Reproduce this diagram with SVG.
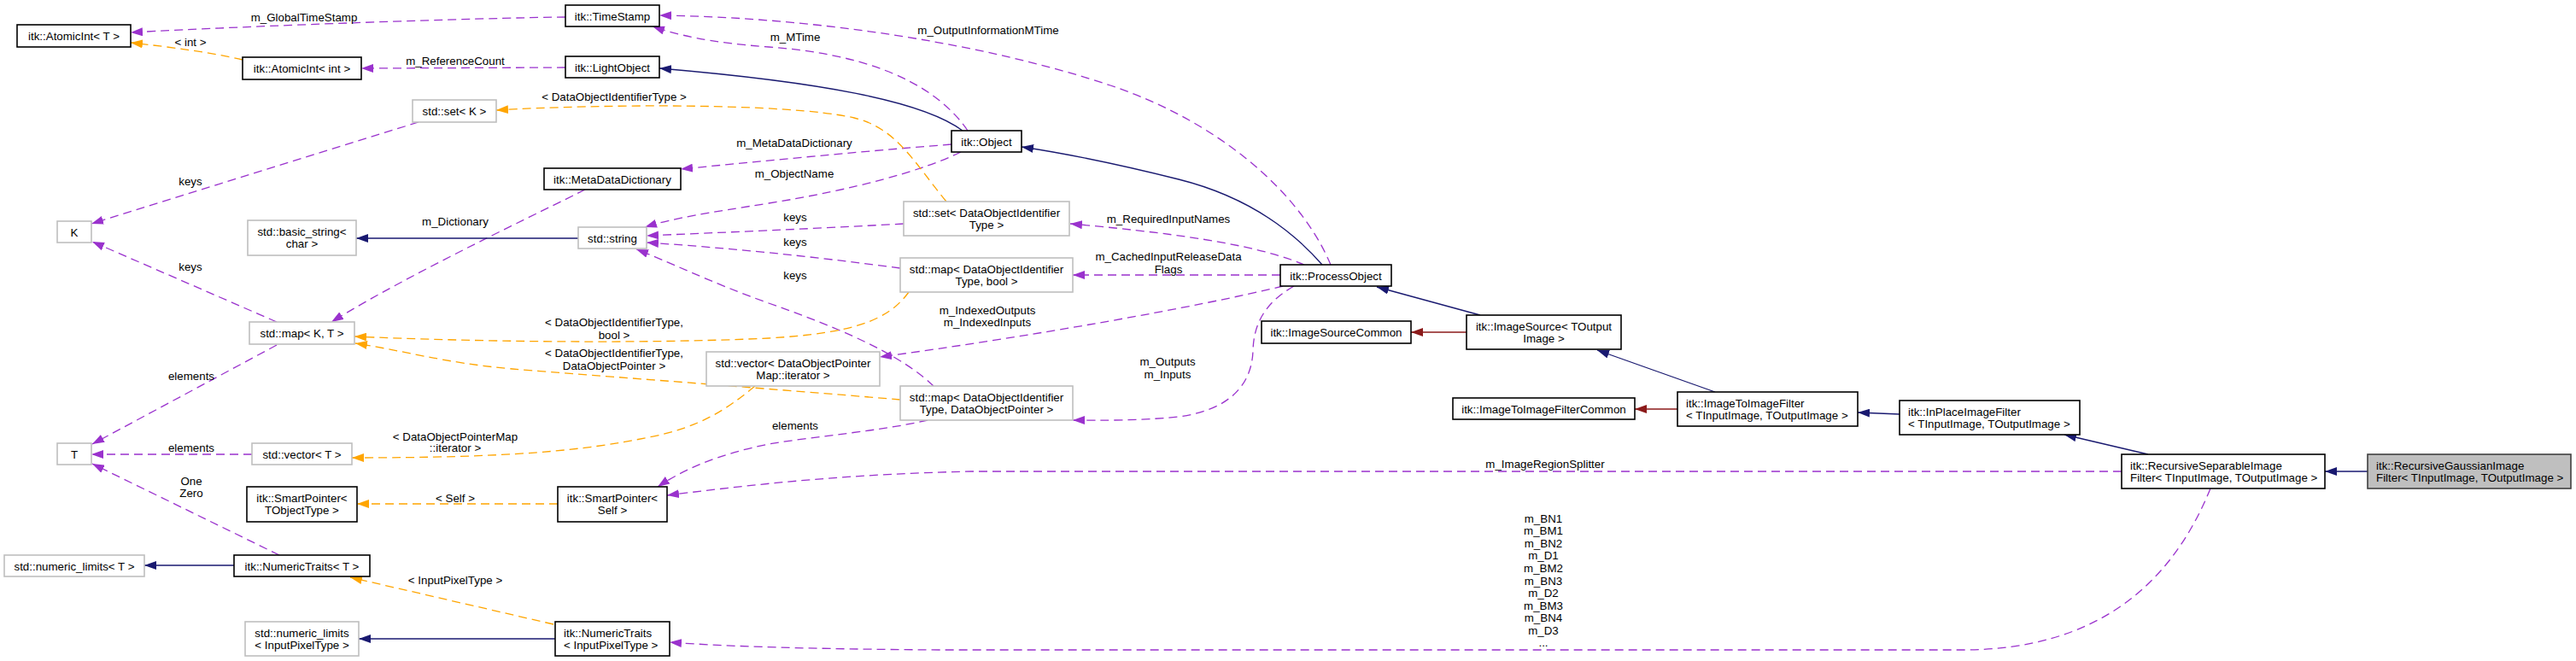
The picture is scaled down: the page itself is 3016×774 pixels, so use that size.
<svg xmlns="http://www.w3.org/2000/svg" width="3016" height="774" viewBox="0 0 3016 774">
<style>
text{font-family:"Liberation Sans",Arial,sans-serif;font-size:13.33px;fill:#000}
.c{text-anchor:middle}
.nb{fill:#fff;stroke:#000;stroke-width:1.6}
.ng{fill:#fff;stroke:#bfbfbf;stroke-width:1.6}
.nf{fill:#bfbfbf;stroke:#404040;stroke-width:1.6}
.e{fill:none;stroke-width:1.3}
.p{stroke:#9a32cd;stroke-dasharray:10,6}
.o{stroke:#ffa500;stroke-dasharray:10,6}
.b{stroke:#191970}
.r{stroke:#8b1a1a}
</style>
<defs>
<marker id="ap" markerWidth="14" markerHeight="10" refX="14" refY="5" orient="auto" markerUnits="userSpaceOnUse"><path d="M0,0 L14,5 L0,10 z" fill="#9a32cd"/></marker>
<marker id="ao" markerWidth="14" markerHeight="10" refX="14" refY="5" orient="auto" markerUnits="userSpaceOnUse"><path d="M0,0 L14,5 L0,10 z" fill="#ffa500"/></marker>
<marker id="ab" markerWidth="14" markerHeight="10" refX="14" refY="5" orient="auto" markerUnits="userSpaceOnUse"><path d="M0,0 L14,5 L0,10 z" fill="#191970"/></marker>
<marker id="ar" markerWidth="14" markerHeight="10" refX="14" refY="5" orient="auto" markerUnits="userSpaceOnUse"><path d="M0,0 L14,5 L0,10 z" fill="#8b1a1a"/></marker>
</defs>
<rect width="3016" height="774" fill="#fff"/>
<g id="edges">
<path class="e p" d="M662,20 C560,21 300,30 153,38" marker-end="url(#ap)"/>
<text class="c" x="356" y="25">m_GlobalTimeStamp</text>
<path class="e o" d="M284,70 C250,62 200,55 153,50" marker-end="url(#ao)"/>
<text class="c" x="223" y="54">&lt; int &gt;</text>
<path class="e p" d="M662,79 L423,80" marker-end="url(#ap)"/>
<text class="c" x="533" y="76">m_ReferenceCount</text>
<path class="e b" d="M1127,153 C1080,118 960,96 772,80" marker-end="url(#ab)"/>
<path class="e p" d="M1133,153 C1090,90 1000,62 900,55 C830,50 790,40 764,31" marker-end="url(#ap)"/>
<text class="c" x="931" y="48">m_MTime</text>
<path class="e p" d="M1558,310 C1520,220 1420,140 1300,100 C1150,50 950,20 772,18" marker-end="url(#ap)"/>
<text class="c" x="1157" y="40">m_OutputInformationMTime</text>
<path class="e b" d="M1548,310 C1500,255 1440,225 1380,210 C1300,190 1250,180 1196,172" marker-end="url(#ab)"/>
<path class="e p" d="M1114,169 C1000,178 900,188 797,198" marker-end="url(#ap)"/>
<text class="c" x="930" y="172">m_MetaDataDictionary</text>
<path class="e p" d="M1125,178 C1080,200 1000,222 900,238 C830,249 790,255 755,266" marker-end="url(#ap)"/>
<text class="c" x="930" y="208">m_ObjectName</text>
<path class="e p" d="M685,222 C640,245 480,320 388,377" marker-end="url(#ap)"/>
<text class="c" x="533" y="264">m_Dictionary</text>
<path class="e b" d="M677,279 L417,279" marker-end="url(#ab)"/>
<path class="e o" d="M1108,236 C1070,190 1050,150 1000,138 C920,120 700,122 581,129" marker-end="url(#ao)"/>
<text class="c" x="719" y="118">&lt; DataObjectIdentifierType &gt;</text>
<path class="e p" d="M490,143 L107,262" marker-end="url(#ap)"/>
<text class="c" x="223" y="217">keys</text>
<path class="e p" d="M324,377 L108,283" marker-end="url(#ap)"/>
<text class="c" x="223" y="317">keys</text>
<path class="e p" d="M324,404 L108,520" marker-end="url(#ap)"/>
<text class="c" x="224" y="445">elements</text>
<path class="e p" d="M295,532 L107,532" marker-end="url(#ap)"/>
<text class="c" x="224" y="529">elements</text>
<path class="e p" d="M327,650 L108,543" marker-end="url(#ap)"/>
<text class="c" x="224" y="568">One</text>
<text class="c" x="224" y="582">Zero</text>
<path class="e b" d="M274,662 L169,662" marker-end="url(#ab)"/>
<path class="e o" d="M648,731 L410,676" marker-end="url(#ao)"/>
<text class="c" x="533" y="684">&lt; InputPixelType &gt;</text>
<path class="e b" d="M650,748 L420,748" marker-end="url(#ab)"/>
<path class="e o" d="M653,590 L418,590" marker-end="url(#ao)"/>
<text class="c" x="533" y="588">&lt; Self &gt;</text>
<path class="e p" d="M1058,262 C950,268 850,272 757,276" marker-end="url(#ap)"/>
<text class="c" x="931" y="259">keys</text>
<path class="e p" d="M1054,314 C950,300 850,290 757,284" marker-end="url(#ap)"/>
<text class="c" x="931" y="288">keys</text>
<path class="e p" d="M1093,452 C1060,420 1000,390 900,355 C830,330 780,305 745,292" marker-end="url(#ap)"/>
<text class="c" x="931" y="327">keys</text>
<path class="e o" d="M1064,342 C1040,375 1000,390 900,396 C750,403 550,400 415,394" marker-end="url(#ao)"/>
<text class="c" x="719" y="382">&lt; DataObjectIdentifierType,</text>
<text class="c" x="719" y="397">bool &gt;</text>
<path class="e o" d="M1054,468 C900,455 700,440 600,432 C520,425 470,410 416,402" marker-end="url(#ao)"/>
<text class="c" x="719" y="418">&lt; DataObjectIdentifierType,</text>
<text class="c" x="719" y="433">DataObjectPointer &gt;</text>
<path class="e o" d="M884,452 C850,480 820,500 760,512 C680,528 600,536 412,536" marker-end="url(#ao)"/>
<text class="c" x="533" y="516">&lt; DataObjectPointerMap</text>
<text class="c" x="533" y="529">::iterator &gt;</text>
<path class="e p" d="M1527,310 C1480,290 1400,275 1253,262" marker-end="url(#ap)"/>
<text class="c" x="1368" y="261">m_RequiredInputNames</text>
<path class="e p" d="M1499,322 L1256,322" marker-end="url(#ap)"/>
<text class="c" x="1368" y="305">m_CachedInputReleaseData</text>
<text class="c" x="1368" y="320">Flags</text>
<path class="e p" d="M1502,335 C1400,360 1200,395 1030,418" marker-end="url(#ap)"/>
<text class="c" x="1156" y="368">m_IndexedOutputs</text>
<text class="c" x="1156" y="382">m_IndexedInputs</text>
<path class="e p" d="M1515,335 C1480,355 1468,380 1467,410 C1466,450 1440,480 1380,488 C1330,493 1290,492 1256,492" marker-end="url(#ap)"/>
<text class="c" x="1367" y="428">m_Outputs</text>
<text class="c" x="1367" y="443">m_Inputs</text>
<path class="e p" d="M1086,492 C1030,505 960,510 900,520 C840,532 800,550 770,570" marker-end="url(#ap)"/>
<text class="c" x="931" y="503">elements</text>
<path class="e p" d="M2484,552 L1137,552 C1000,555 900,565 781,580" marker-end="url(#ap)"/>
<text class="c" x="1809" y="548">m_ImageRegionSplitter</text>
<path class="e p" d="M2588,572 C2540,690 2450,760 2300,761 L1100,761 C950,760 850,757 784,752" marker-end="url(#ap)"/>
<text class="c" x="1807" y="612">m_BN1</text>
<text class="c" x="1807" y="626">m_BM1</text>
<text class="c" x="1807" y="641">m_BN2</text>
<text class="c" x="1807" y="655">m_D1</text>
<text class="c" x="1807" y="670">m_BM2</text>
<text class="c" x="1807" y="685">m_BN3</text>
<text class="c" x="1807" y="699">m_D2</text>
<text class="c" x="1807" y="714">m_BM3</text>
<text class="c" x="1807" y="728">m_BN4</text>
<text class="c" x="1807" y="743">m_D3</text>
<text class="c" x="1807" y="757">...</text>
<path class="e b" d="M1733,369 L1612,336" marker-end="url(#ab)"/>
<path class="e r" d="M1717,389 L1652,389" marker-end="url(#ar)"/>
<path class="e b" d="M2008,459 L1870,410" marker-end="url(#ab)"/>
<path class="e r" d="M1964,479 L1914,479" marker-end="url(#ar)"/>
<path class="e b" d="M2224,485 L2175,483" marker-end="url(#ab)"/>
<path class="e b" d="M2515,532 L2417,509" marker-end="url(#ab)"/>
<path class="e b" d="M2772,552 L2722,552" marker-end="url(#ab)"/>
</g>
<g id="n_atomicT"><rect class="nb" x="20" y="29" width="133" height="26"/><text class="c" x="86.5" y="47">itk::AtomicInt&lt; T &gt;</text></g>
<g id="n_timestamp"><rect class="nb" x="662" y="6" width="110" height="25"/><text class="c" x="717" y="23.5">itk::TimeStamp</text></g>
<g id="n_atomicInt"><rect class="nb" x="284" y="67" width="139" height="26"/><text class="c" x="353.5" y="85">itk::AtomicInt&lt; int &gt;</text></g>
<g id="n_lightobject"><rect class="nb" x="662" y="66" width="110" height="25"/><text class="c" x="717" y="83.5">itk::LightObject</text></g>
<g id="n_setK"><rect class="ng" x="483" y="117" width="98" height="26"/><text class="c" x="532" y="135">std::set&lt; K &gt;</text></g>
<g id="n_mdd"><rect class="nb" x="637" y="197" width="160" height="25"/><text class="c" x="717" y="214.5">itk::MetaDataDictionary</text></g>
<g id="n_K"><rect class="ng" x="67" y="259" width="40" height="25"/><text class="c" x="87" y="276.5">K</text></g>
<g id="n_basicstring"><rect class="ng" x="290" y="258" width="127" height="41"/><text class="c" x="353.5" y="275.5">std::basic_string&lt;</text><text class="c" x="353.5" y="290">char &gt;</text></g>
<g id="n_string"><rect class="ng" x="677" y="266" width="80" height="25"/><text class="c" x="717" y="283.5">std::string</text></g>
<g id="n_mapKT"><rect class="ng" x="292" y="377" width="123" height="26"/><text class="c" x="353.5" y="395">std::map&lt; K, T &gt;</text></g>
<g id="n_T"><rect class="ng" x="67" y="519" width="40" height="25"/><text class="c" x="87" y="536.5">T</text></g>
<g id="n_vectorT"><rect class="ng" x="295" y="519" width="117" height="25"/><text class="c" x="353.5" y="536.5">std::vector&lt; T &gt;</text></g>
<g id="n_spTOT"><rect class="nb" x="289" y="570" width="129" height="41"/><text class="c" x="353.5" y="587.5">itk::SmartPointer&lt;</text><text class="c" x="353.5" y="602">TObjectType &gt;</text></g>
<g id="n_spSelf"><rect class="nb" x="653" y="570" width="128" height="41"/><text class="c" x="717" y="587.5">itk::SmartPointer&lt;</text><text class="c" x="717" y="602">Self &gt;</text></g>
<g id="n_nlT"><rect class="ng" x="5" y="650" width="164" height="25"/><text class="c" x="87" y="667.5">std::numeric_limits&lt; T &gt;</text></g>
<g id="n_ntT"><rect class="nb" x="274" y="650" width="159" height="25"/><text class="c" x="353.5" y="667.5">itk::NumericTraits&lt; T &gt;</text></g>
<g id="n_nlIPT"><rect class="ng" x="287" y="728" width="133" height="40"/><text class="c" x="353.5" y="745.5">std::numeric_limits</text><text class="c" x="353.5" y="760">&lt; InputPixelType &gt;</text></g>
<g id="n_ntIPT"><rect class="nb" x="650" y="728" width="134" height="40"/><text x="660" y="745.5">itk::NumericTraits</text><text x="660" y="760">&lt; InputPixelType &gt;</text></g>
<g id="n_object"><rect class="nb" x="1114" y="153" width="82" height="25"/><text class="c" x="1155" y="170.5">itk::Object</text></g>
<g id="n_setDOI"><rect class="ng" x="1058" y="236" width="194" height="40"/><text class="c" x="1155" y="253.5">std::set&lt; DataObjectIdentifier</text><text class="c" x="1155" y="268">Type &gt;</text></g>
<g id="n_mapBool"><rect class="ng" x="1054" y="302" width="202" height="40"/><text class="c" x="1155" y="319.5">std::map&lt; DataObjectIdentifier</text><text class="c" x="1155" y="334">Type, bool &gt;</text></g>
<g id="n_processobject"><rect class="nb" x="1499" y="310" width="130" height="25"/><text class="c" x="1564" y="327.5">itk::ProcessObject</text></g>
<g id="n_iscommon"><rect class="nb" x="1477" y="376" width="175" height="26"/><text class="c" x="1564.5" y="394">itk::ImageSourceCommon</text></g>
<g id="n_vectorDOP"><rect class="ng" x="827" y="412" width="203" height="40"/><text class="c" x="928.5" y="429.5">std::vector&lt; DataObjectPointer</text><text class="c" x="928.5" y="444">Map::iterator &gt;</text></g>
<g id="n_mapDOP"><rect class="ng" x="1054" y="452" width="202" height="40"/><text class="c" x="1155" y="469.5">std::map&lt; DataObjectIdentifier</text><text class="c" x="1155" y="484">Type, DataObjectPointer &gt;</text></g>
<g id="n_imagesource"><rect class="nb" x="1717" y="369" width="181" height="40"/><text class="c" x="1807.5" y="386.5">itk::ImageSource&lt; TOutput</text><text class="c" x="1807.5" y="401">Image &gt;</text></g>
<g id="n_itifcommon"><rect class="nb" x="1701" y="466" width="213" height="25"/><text class="c" x="1807.5" y="483.5">itk::ImageToImageFilterCommon</text></g>
<g id="n_itif"><rect class="nb" x="1964" y="459" width="211" height="40"/><text x="1974" y="476.5">itk::ImageToImageFilter</text><text x="1974" y="491">&lt; TInputImage, TOutputImage &gt;</text></g>
<g id="n_inplace"><rect class="nb" x="2224" y="469" width="211" height="40"/><text x="2234" y="486.5">itk::InPlaceImageFilter</text><text x="2234" y="501">&lt; TInputImage, TOutputImage &gt;</text></g>
<g id="n_rsif"><rect class="nb" x="2484" y="532" width="238" height="40"/><text x="2494" y="549.5">itk::RecursiveSeparableImage</text><text x="2494" y="564">Filter&lt; TInputImage, TOutputImage &gt;</text></g>
<g id="n_rgif"><rect class="nf" x="2772" y="532" width="238" height="40"/><text x="2782" y="549.5">itk::RecursiveGaussianImage</text><text x="2782" y="564">Filter&lt; TInputImage, TOutputImage &gt;</text></g>
</svg>
